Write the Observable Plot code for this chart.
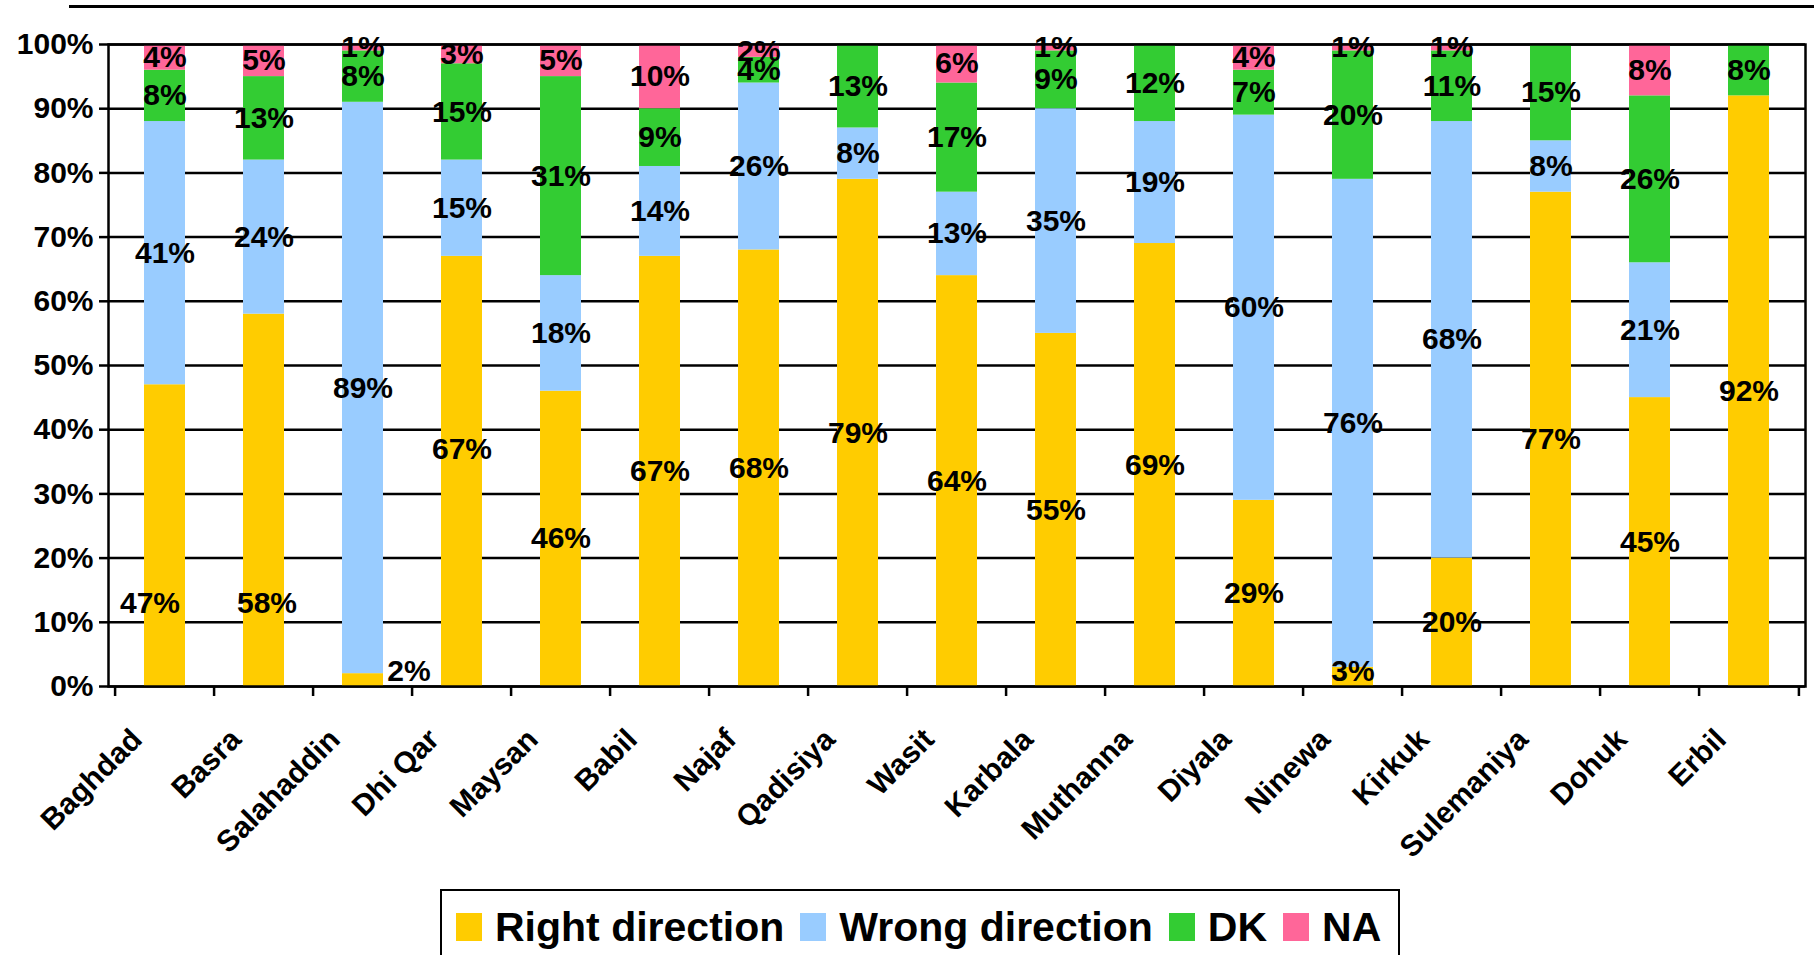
<!DOCTYPE html>
<html>
<head>
<meta charset="utf-8">
<script src="https://cdn.jsdelivr.net/npm/d3@7"></script>
<script src="https://cdn.jsdelivr.net/npm/@observablehq/plot@0.6"></script>
<style>
  body { margin: 0; background: #fff; font-family: "Liberation Sans", Arial, sans-serif; }
  #wrap { position: relative; width: 1814px; height: 955px; overflow: hidden; background: #fff; }
  #chart { position: absolute; left: 0; top: 0; }
  #topline { position: absolute; left: 69px; right: 0; top: 5px; height: 3px; background: #000; z-index: 2; }
  #legend { position: absolute; left: 440px; top: 889px; width: 960px; height: 100px; border: 2px solid #000;
            box-sizing: border-box; display: flex; align-items: flex-start; padding: 16px 0 0 14px; background: #fff; }
  .item { display: flex; align-items: center; margin-right: 16px; }
  .sw { width: 26px; height: 28px; margin-right: 13px; }
  .lab { font-size: 41px; font-weight: bold; color: #000; line-height: 40px; }
</style>
</head>
<body>
<div id="wrap">
  <div id="chart"></div>
  <div id="topline"></div>
  <div id="legend"></div>
</div>
<script>
// ---- data ----
const categories = ["Baghdad","Basra","Salahaddin","Dhi Qar","Maysan","Babil","Najaf","Qadisiya","Wasit","Karbala","Muthanna","Diyala","Ninewa","Kirkuk","Sulemaniya","Dohuk","Erbil"];
const seriesNames = ["Right direction","Wrong direction","DK","NA"];
const rightDirection = [47,58,2,67,46,67,68,79,64,55,69,29,3,20,77,45,92];
const wrongDirection = [41,24,89,15,18,14,26,8,13,35,19,60,76,68,8,21,0];
const dontKnow       = [8,13,8,15,31,9,4,13,17,9,12,7,20,11,15,26,8];
const noAnswer       = [4,5,1,3,5,10,2,0,6,1,0,4,1,1,0,8,0];
const yTicks = [0,10,20,30,40,50,60,70,80,90,100];
const colors = ["#FFCC00","#99CCFF","#33CC33","#FF6699"];
// label placements that differ from the segment centre in the original
const labelAdjust = [
  {cat: "Baghdad", series: "Right direction", y: 13, dx: -15},
  {cat: "Basra", series: "Right direction", y: 13, dx: 3},
  {cat: "Salahaddin", series: "Right direction", y: 2.3, dx: 46},
  {cat: "Dhi Qar", series: "Right direction", y: 37, dx: 0},
  {cat: "Ninewa", series: "Right direction", y: 2.3, dx: 0}
];

// ---- build stacked table ----
const seriesValues = [rightDirection, wrongDirection, dontKnow, noAnswer];
const rows = [];
categories.forEach((c, i) => {
  let acc = 0;
  seriesNames.forEach((s, k) => {
    const v = seriesValues[k][i];
    rows.push({cat: c, series: s, value: v, y1: acc, y2: acc + v, mid: acc + v / 2});
    acc += v;
  });
});
const labelled = rows.filter(r => r.value > 0);
const adjKey = r => r.cat + "|" + r.series;
const adjMap = new Map(labelAdjust.map(a => [a.cat + "|" + a.series, a]));
const plainLabels = labelled.filter(r => !adjMap.has(adjKey(r)));

const W = 1814, H = 889, ML = 108, MR = 9, MT = 44, MB = 203;
const step = (W - ML - MR) / categories.length;

const textStyle = {fontSize: 30, fontWeight: "bold", fill: "#000"};

const adjustedMarks = labelled.filter(r => adjMap.has(adjKey(r))).map(r => {
  const a = adjMap.get(adjKey(r));
  return Plot.text([{cat: r.cat, y: a.y, t: r.value + "%"}], {x: "cat", y: "y", text: "t", dx: a.dx, ...textStyle});
});

const chart = Plot.plot({
  width: W, height: H,
  marginLeft: ML, marginRight: MR, marginTop: MT, marginBottom: MB,
  style: {fontFamily: "'Liberation Sans', Arial, sans-serif", background: "#fff", overflow: "visible"},
  x: {domain: categories, paddingInner: 0.59, paddingOuter: 0.295, label: null},
  y: {domain: [0, 100], label: null},
  color: {domain: seriesNames, range: colors},
  marks: [
    Plot.gridY(yTicks, {stroke: "#000", strokeOpacity: 1, strokeWidth: 2.5}),
    Plot.barY(rows.filter(r => r.value > 0), {x: "cat", y1: "y1", y2: "y2", fill: "series"}),
    Plot.frame({stroke: "#000", strokeWidth: 2.5}),
    Plot.ruleX(categories, {x: d => d, y1: 0, y2: 0, insetBottom: -10, dx: -step / 2, stroke: "#000", strokeWidth: 2.5}),
    Plot.ruleX(categories.slice(-1), {x: d => d, y1: 0, y2: 0, insetBottom: -10, dx: step / 2, stroke: "#000", strokeWidth: 2.5}),
    Plot.text(plainLabels, {x: "cat", y: "mid", text: d => d.value + "%", ...textStyle}),
    ...adjustedMarks,
    Plot.axisY({ticks: yTicks, tickFormat: d => d + "%", tickSize: 9, tickPadding: 6, fontSize: 30, fontWeight: "bold", strokeWidth: 2.5, stroke: "#000"}),
    Plot.axisX({tickSize: 0, tickRotate: -45, tickPadding: 22, dx: -28, dy: 26, fontSize: 30, fontWeight: "bold"})
  ]
});
document.getElementById("chart").appendChild(chart);

// ---- legend ----
const legend = document.getElementById("legend");
seriesNames.forEach((s, k) => {
  const it = document.createElement("div");
  it.className = "item";
  const sw = document.createElement("div");
  sw.className = "sw";
  sw.style.background = colors[k];
  const lb = document.createElement("span");
  lb.className = "lab";
  lb.textContent = s;
  it.appendChild(sw); it.appendChild(lb);
  legend.appendChild(it);
});
</script>
</body>
</html>
